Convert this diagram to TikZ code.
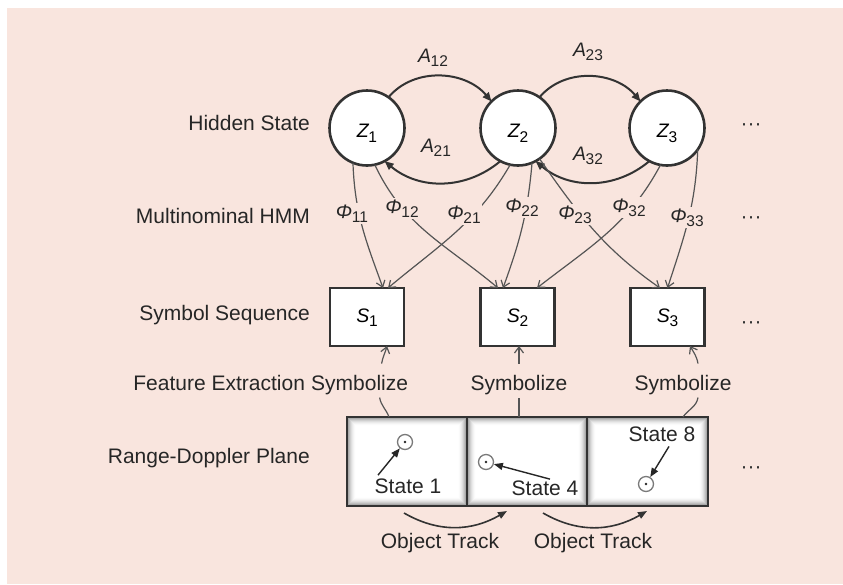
\documentclass[tikz,border=0pt]{standalone}
\usepackage{fontspec}
\setmainfont{Liberation Sans}
\usetikzlibrary{arrows.meta}
\definecolor{bgpink}{HTML}{F9E5DE}
\definecolor{ink}{HTML}{262626}
\definecolor{edge}{HTML}{333333}
\definecolor{thin}{HTML}{555555}
\definecolor{dotc}{HTML}{7A7A7A}
\newcommand\mlab[2]{{\fontsize{19.5}{19.5}\selectfont\itshape #1}\kern-0.3pt\raisebox{-4.5pt}{\fontsize{15.5}{15.5}\selectfont #2}}
\tikzset{
  lbl/.style={inner sep=0pt, text=ink, font=\fontsize{21}{24}\selectfont},
  mathlbl/.style={inner sep=2pt, text=ink, anchor=base},
  philbl/.style={inner sep=1.5pt, text=ink, anchor=base, fill=bgpink},
  hstate/.style={circle, draw=edge, line width=2.6pt, fill=white, minimum size=75pt, inner sep=0pt, outer sep=0pt},
  symbox/.style={rectangle, draw=edge, line width=2.2pt, fill=white, minimum width=74pt, minimum height=58pt, inner sep=0pt, outer sep=0pt},
  panel/.style={rectangle, draw=edge, line width=2.4pt, fill=white, minimum height=89pt, inner sep=0pt, outer sep=0pt,
    path picture={
      \foreach \i [evaluate=\i as \op using {0.42*(1-\i/9)^2}] in {0,...,8}
        \draw[black, opacity=\op, line width=1pt]
          ([shift={(\i*1pt+0.5pt,\i*1pt+0.5pt)}]path picture bounding box.south west) rectangle
          ([shift={(-\i*1pt-0.5pt,-\i*1pt-0.5pt)}]path picture bounding box.north east);
    }},
  trans/.style={draw=edge, line width=2pt, -{Triangle[length=9pt,width=7.5pt]}},
  emis/.style={draw=thin, line width=1.2pt, -{Straight Barb[length=6pt,width=9pt,line width=1.2pt]}},
  symline/.style={draw=thin, line width=1.2pt},
  symarr/.style={symline, -{Straight Barb[length=6pt,width=9pt,line width=1.2pt]}},
  target/.style={circle, draw=dotc, line width=1.3pt, fill=white, minimum size=15pt, inner sep=0pt},
  statearr/.style={draw=ink, line width=1.4pt, -{Triangle[length=9pt,width=7pt]}},
  trackarr/.style={draw=edge, line width=1.6pt, -{Triangle[length=9pt,width=7pt]}},
  ell/.style={inner sep=0pt, text=edge, font=\fontsize{21}{24}\selectfont, anchor=base},
}
\begin{document}
\begin{tikzpicture}[x=1pt,y=-1pt]
\useasboundingbox (0,0) rectangle (843,584);
\fill[white] (0,0) rectangle (843,584);
\fill[bgpink] (7,8) rectangle (843,584);

% row labels
\node[lbl, anchor=base east] (hs) at (310,130) {Hidden State};
\node[lbl, anchor=base east] (mh) at (310,223) {Multinominal HMM};
\node[lbl, anchor=base east] (ss) at (310,320) {Symbol Sequence};
\node[lbl, anchor=base east] (rd) at (310,463) {Range-Doppler Plane};

% hidden states
\node[hstate] (z1) at (367,128) {\raisebox{-9.5pt}[0pt][0pt]{\mlab{Z}{1}}};
\node[hstate] (z2) at (518,128) {\raisebox{-9.5pt}[0pt][0pt]{\mlab{Z}{2}}};
\node[hstate] (z3) at (667,128) {\raisebox{-9.5pt}[0pt][0pt]{\mlab{Z}{3}}};

% transitions
\draw[trans] (z1.55) to[out=50,in=130] (z2.135);
\draw[trans] (z2.55) to[out=50,in=130] (z3.135);
\draw[trans] (z2.-118) to[out=-140,in=-40] (z1.-62);
\draw[trans] (z3.-118) to[out=-140,in=-40] (z2.-62);
\node[mathlbl] (a12) at (433,62) {\mlab{A}{12}};
\node[mathlbl] (a23) at (588,56) {\mlab{A}{23}};
\node[mathlbl] (a21) at (436,152) {\mlab{A}{21}};
\node[mathlbl] (a32) at (588,160) {\mlab{A}{32}};

% symbols
\node[symbox] (s1) at (367,317) {\raisebox{-5pt}[0pt][0pt]{\mlab{S}{1}}};
\node[symbox] (s2) at (517.5,317) {\raisebox{-5pt}[0pt][0pt]{\mlab{S}{2}}};
\node[symbox] (s3) at (667.5,317) {\raisebox{-5pt}[0pt][0pt]{\mlab{S}{3}}};

% emissions
\draw[emis] (z1.-112) to[out=-88,in=110] ([xshift=16pt]s1.north);
\draw[emis] (z1.-78) to[out=-65,in=140] ([xshift=-19.5pt]s2.north);
\draw[emis] (z2.-102) to[out=-120,in=40] ([xshift=21pt]s1.north);
\draw[emis] (z2.-68) to[out=-95,in=70] ([xshift=-14.5pt]s2.north);
\draw[emis] (z2.-55) to[out=-55,in=145] ([xshift=-7.5pt]s3.north);
\draw[emis] (z3.-100) to[out=-118,in=38] ([xshift=19.5pt]s2.north);
\draw[emis] (z3.-35) to[out=-92,in=72] (s3.north);
\node[philbl] (f11) at (352,218) {\mlab{Φ}{11}};
\node[philbl] (f12) at (402,213) {\mlab{Φ}{12}};
\node[philbl] (f21) at (464,219) {\mlab{Φ}{21}};
\node[philbl] (f22) at (522,212) {\mlab{Φ}{22}};
\node[philbl] (f23) at (575,219) {\mlab{Φ}{23}};
\node[philbl] (f32) at (629,212) {\mlab{Φ}{32}};
\node[philbl] (f33) at (687,222) {\mlab{Φ}{33}};

% range-doppler panels
\node[panel, minimum width=120pt] (p1) at (407,461.5) {};
\node[panel, minimum width=120pt] (p2) at (527,461.5) {};
\node[panel, minimum width=121pt] (p3) at (647.5,461.5) {};

% symbolize
\node[lbl, anchor=base] (sym1) at (359.6,390) {Symbolize};
\node[lbl, anchor=base east] (fe) at ([xshift=-5.8pt]sym1.base west) {Feature Extraction};
\node[lbl, anchor=base] (sym2) at (519,390) {Symbolize};
\node[lbl, anchor=base] (sym3) at (683,390) {Symbolize};
\draw[symline] ([xshift=-18pt]p1.north) to[out=110,in=-80] ([xshift=20pt,yshift=-3pt]sym1.south);
\draw[symarr] ([xshift=22pt,yshift=11pt]sym1.north) to[out=80,in=-105] ([xshift=20pt]s1.south);
\draw[symline] ([xshift=-8pt]p2.north) -- ([yshift=-3pt]sym2.south);
\draw[symarr] ([yshift=11pt]sym2.north) -- ([xshift=1.5pt]s2.south);
\draw[symline] ([xshift=35.5pt]p3.north) to[out=55,in=-100] ([xshift=15pt,yshift=-3pt]sym3.south);
\draw[symarr] ([xshift=15pt,yshift=11pt]sym3.north) to[out=100,in=-60] ([xshift=22.5pt]s3.south);

% targets and states
\node[target] (t1) at (405,442) {};
\node[target] (t4) at (486,462) {};
\node[target] (t8) at (646,484) {};
\fill[ink] (t1.center) circle (1.3pt);
\fill[ink] (t4.center) circle (1.3pt);
\fill[ink] (t8.center) circle (1.3pt);
\node[lbl, anchor=base] (st1) at (408,493) {State 1};
\node[lbl, anchor=base] (st4) at (545,495) {State 4};
\node[lbl, anchor=base] (st8) at (662,441) {State 8};
\draw[statearr] ([xshift=-30pt,yshift=3pt]st1.north) -- (t1);
\draw[statearr] ([xshift=5pt,yshift=1pt]st4.north) -- (t4);
\draw[statearr] ([xshift=7pt,yshift=-5pt]st8.south) -- (t8);

% object track
\draw[trackarr] ([xshift=-3pt,yshift=-7pt]p1.south) to[out=-30,in=-150] ([xshift=-20pt,yshift=-5pt]p2.south);
\draw[trackarr] ([xshift=16pt,yshift=-7pt]p2.south) to[out=-30,in=-150] ([xshift=-0.5pt,yshift=-5pt]p3.south);
\node[lbl, anchor=base] (ot1) at (440,548) {Object Track};
\node[lbl, anchor=base] (ot2) at (593,548) {Object Track};

% continuation dots
\node[ell] (d1) at (751,130.5) {···};
\node[ell] (d2) at (751,223.5) {···};
\node[ell] (d3) at (751,328.5) {···};
\node[ell] (d4) at (751,473.5) {···};
\end{tikzpicture}
\end{document}
